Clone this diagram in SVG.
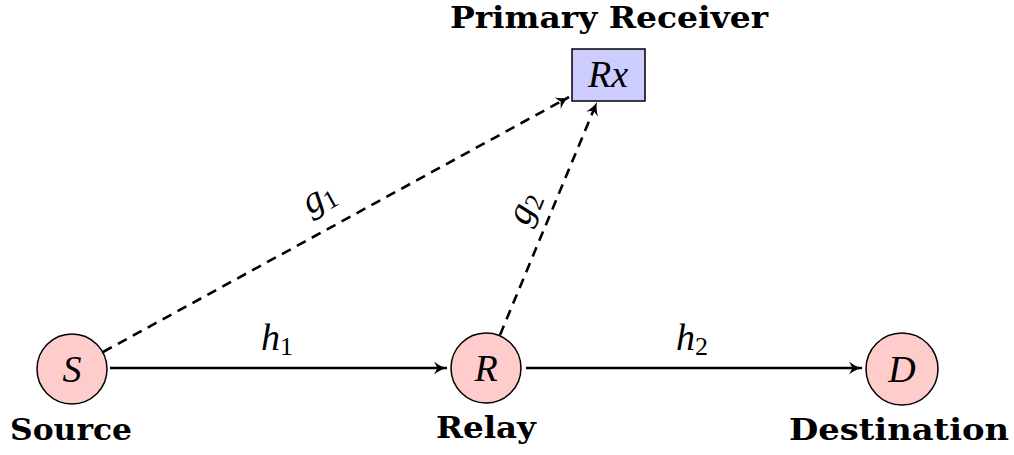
<svg xmlns="http://www.w3.org/2000/svg" width="1014" height="455" viewBox="0 0 1014 455">
<style>
.bg{fill:#ffffff}
.node{fill:#ffcccc;stroke:#000;stroke-width:1.5}
.box{fill:#ccccff;stroke:#000;stroke-width:1.5}
.math{font-family:"Liberation Serif",serif;font-style:italic;font-size:38px;fill:#000}
.sub{font-family:"Liberation Serif",serif;font-style:normal;font-size:26px}
.lbl{font-family:"DejaVu Serif",serif;font-weight:bold;font-size:29px;fill:#000}
.edge{stroke:#000;stroke-width:2.6;fill:none}
.dash{stroke-dasharray:10 7}
</style>
<defs>
<marker id="arr" markerWidth="18" markerHeight="16" refX="14" refY="8" orient="auto" markerUnits="userSpaceOnUse">
<path d="M1,1.5 Q7,6.5 14,8 Q7,9.5 1,14.5 L4.5,8 Z" fill="#000"/>
</marker>
</defs>
<rect class="bg" x="0" y="0" width="1014" height="455"/>
<g id="connectors">
<line class="edge" x1="110" y1="368" x2="447" y2="368" marker-end="url(#arr)"/>
<line class="edge" x1="526" y1="368" x2="862" y2="368" marker-end="url(#arr)"/>
<line class="edge dash" x1="103" y1="352" x2="569" y2="97" marker-end="url(#arr)"/>
<line class="edge dash" x1="500" y1="335" x2="597" y2="102" marker-end="url(#arr)"/>
<text class="math" x="277" y="350" text-anchor="middle">h<tspan class="sub" dy="5">1</tspan></text>
<text class="math" x="692" y="350" text-anchor="middle">h<tspan class="sub" dy="5">2</tspan></text>
<text class="math" transform="translate(324,207) rotate(-28.7)" text-anchor="middle">g<tspan class="sub" dy="5">1</tspan></text>
<text class="math" transform="translate(534,212) rotate(-67.4)" text-anchor="middle">g<tspan class="sub" dy="5">2</tspan></text>
</g>
<g id="source">
<circle class="node" cx="72" cy="369" r="35"/>
<text class="math" x="72" y="382" text-anchor="middle">S</text>
<text class="lbl" x="71" y="440" text-anchor="middle" textLength="122" lengthAdjust="spacingAndGlyphs">Source</text>
</g>
<g id="relay">
<circle class="node" cx="486" cy="368" r="35"/>
<text class="math" x="486" y="381" text-anchor="middle">R</text>
<text class="lbl" x="486" y="438" text-anchor="middle" textLength="100" lengthAdjust="spacingAndGlyphs">Relay</text>
</g>
<g id="destination">
<circle class="node" cx="902" cy="369" r="36"/>
<text class="math" x="902" y="382" text-anchor="middle">D</text>
<text class="lbl" x="899" y="440" text-anchor="middle" textLength="220" lengthAdjust="spacingAndGlyphs">Destination</text>
</g>
<g id="receiver">
<rect class="box" x="572" y="49" width="73" height="52"/>
<text class="math" x="608" y="87" text-anchor="middle">Rx</text>
<text class="lbl" x="609" y="28" text-anchor="middle" textLength="318" lengthAdjust="spacingAndGlyphs">Primary Receiver</text>
</g>
</svg>
